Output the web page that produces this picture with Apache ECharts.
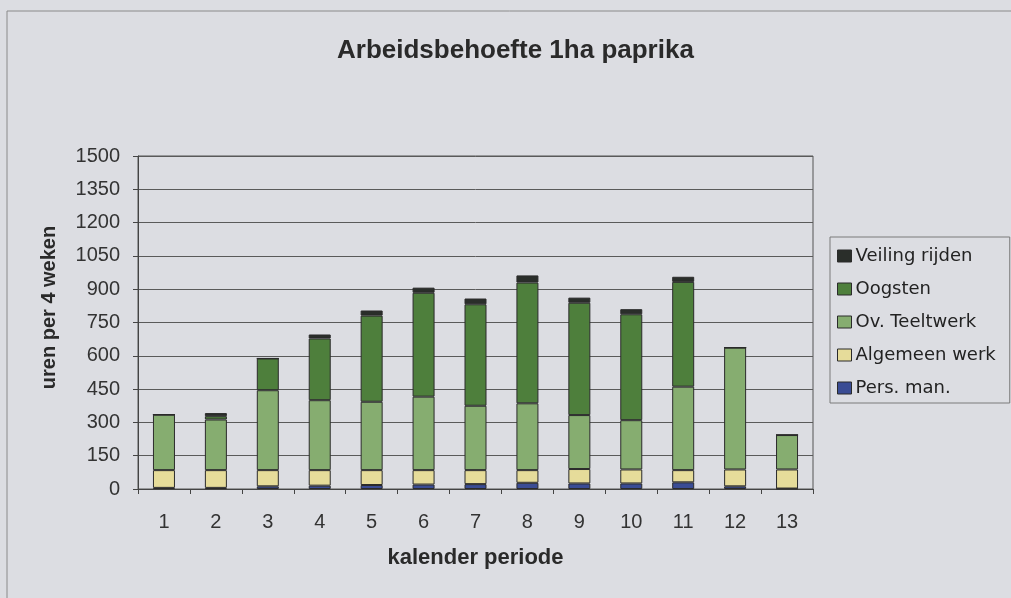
<!DOCTYPE html>
<html>
<head>
<meta charset="utf-8">
<script src="https://cdn.jsdelivr.net/npm/echarts@6/dist/echarts.min.js"></script>
<style>
html,body{margin:0;padding:0;background:#dcdde2;}
#c{width:1011px;height:598px;}
</style>
</head>
<body>
<div id="c"></div>
<script>
const categories = ['1','2','3','4','5','6','7','8','9','10','11','12','13'];
const persMan    = [5, 5, 12, 15, 18, 20, 22, 28, 25, 25, 30, 12, 2];
const algemeen   = [80, 80, 73, 70, 67, 65, 63, 57, 65, 63, 55, 76, 86];
const ovTeelt    = [250, 228, 360, 315, 308, 331, 290, 301, 243, 222, 376, 549, 155];
const oogsten    = [0, 15, 143, 278, 388, 468, 457, 544, 506, 477, 472, 0, 0];
const veiling    = [0, 14, 0, 18, 23, 23, 26, 32, 23, 23, 23, 0, 0];
const yTicks = { min: 0, max: 1500, interval: 150 };

const chart = echarts.init(document.getElementById('c'), null, {renderer:'canvas'});
const numFont = '"Liberation Sans", Arial, sans-serif';
const boldFont = '"Liberation Sans", Arial, sans-serif';
function bar(name, data, color) {
  return {
    name: name, type: 'bar', stack: 'total', data: data, barWidth: 22,
    itemStyle: { color: color, borderColor: '#2b2b2b', borderWidth: 1 },
    emphasis: { disabled: true }
  };
}
chart.setOption({
  backgroundColor: '#dcdde2',
  animation: false,
  title: {
    text: 'Arbeidsbehoefte 1ha paprika',
    left: 332, top: 33,
    textStyle: { fontFamily: boldFont, fontWeight: 'bold', fontSize: 26, color: '#2a2a2a' }
  },
  graphic: [{
    type: 'rect', shape: { x: 7, y: 11, width: 1020, height: 600 },
    style: { fill: null, stroke: '#8a8a8a', lineWidth: 1 }, silent: true, z: -1
  }],
  legend: {
    orient: 'vertical', left: 830, top: 237,
    data: ['Veiling rijden', 'Oogsten', 'Ov. Teeltwerk', 'Algemeen werk', 'Pers. man.'],
    itemWidth: 14, itemHeight: 12, itemGap: 15,
    padding: [10, 14, 6, 7],
    borderColor: '#7a7a7a', borderWidth: 1,
    icon: 'rect',
    itemStyle: { borderColor: '#2b2b2b', borderWidth: 1 },
    textStyle: { fontFamily: '"DejaVu Sans", sans-serif', fontSize: 18, color: '#222', padding: [0,0,0,-1] },
    selectedMode: false
  },
  grid: { left: 138, right: 198, top: 156, bottom: 109, show: true, borderColor: '#555', borderWidth: 1, backgroundColor: 'transparent' },
  xAxis: {
    type: 'category', data: categories,
    name: 'kalender periode', nameLocation: 'middle', nameGap: 58,
    nameTextStyle: { fontFamily: boldFont, fontWeight: 'bold', fontSize: 22, color: '#2a2a2a' },
    axisLine: { lineStyle: { color: '#444', width: 1 } },
    axisTick: { show: true, length: 5, lineStyle: { color: '#444' }, alignWithLabel: false },
    axisLabel: { fontFamily: numFont, fontSize: 20, color: '#333', margin: 23 }
  },
  yAxis: {
    type: 'value', min: yTicks.min, max: yTicks.max, interval: yTicks.interval,
    name: 'uren per 4 weken', nameLocation: 'middle', nameGap: 79,
    nameTextStyle: { fontFamily: boldFont, fontWeight: 'bold', fontSize: 20, color: '#2a2a2a', padding: [0,0,0,30] },
    axisLine: { show: true, lineStyle: { color: '#444', width: 1 } },
    axisTick: { show: true, length: 5, lineStyle: { color: '#444' } },
    splitLine: { show: true, lineStyle: { color: '#5a5a5a', width: 1 } },
    axisLabel: { fontFamily: numFont, fontSize: 20, color: '#333', margin: 18, formatter: function (v) { return String(v); } }
  },
  series: [
    bar('Pers. man.', persMan, '#3a4c94'),
    bar('Algemeen werk', algemeen, '#e6dc9a'),
    bar('Ov. Teeltwerk', ovTeelt, '#86ad70'),
    bar('Oogsten', oogsten, '#4e7f3c'),
    bar('Veiling rijden', veiling, '#2a2e2a')
  ]
});
</script>
</body>
</html>
